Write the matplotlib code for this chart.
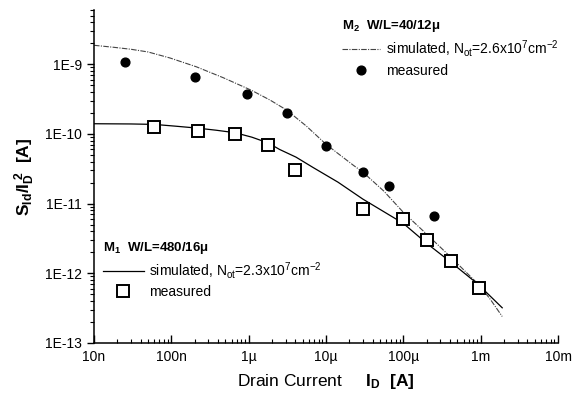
import matplotlib
matplotlib.use("Agg")
import matplotlib.pyplot as plt

plt.rcParams['font.family'] = ['Liberation Sans', 'DejaVu Sans']
plt.rcParams['mathtext.fontset'] = 'custom'
plt.rcParams['mathtext.rm'] = 'Liberation Sans'
plt.rcParams['mathtext.it'] = 'Liberation Sans:italic'
plt.rcParams['mathtext.bf'] = 'Liberation Sans:bold'

# measured, M2 (filled circles)
m2_id = [2.5e-8, 2e-7, 9.5e-7, 3.1e-6, 1e-5, 3e-5, 6.6e-5, 2.5e-4]
m2_s = [1.06e-9, 6.6e-10, 3.8e-10, 2.0e-10, 6.7e-11, 2.8e-11, 1.8e-11, 6.7e-12]

# measured, M1 (open squares)
m1_id = [6e-8, 2.2e-7, 6.6e-7, 1.76e-6, 4e-6, 3e-5, 1e-4, 2e-4, 4.1e-4, 9.5e-4]
m1_s = [1.24e-10, 1.1e-10, 1.0e-10, 7.0e-11, 3.0e-11, 8.5e-12, 6.0e-12, 3.0e-12,
        1.5e-12, 6.1e-13]

# simulated curves
sim2_id = [1e-8, 1.8e-8, 3e-8, 5e-8, 9.6e-8, 2.1e-7, 4.7e-7, 1.1e-6, 1.9e-6, 3.1e-6,
           5.6e-6, 1e-5, 2.25e-5, 3e-5, 5.6e-5, 1e-4, 2e-4, 4.1e-4, 9.8e-4,
           1.36e-3, 1.9e-3]
sim2_s = [1.87e-9, 1.75e-9, 1.64e-9, 1.50e-9, 1.23e-9, 9.2e-10, 6.4e-10, 4.2e-10,
          3.05e-10, 2.2e-10, 1.29e-10, 7.1e-11, 3.56e-11, 2.83e-11, 1.51e-11,
          7.5e-12, 3.65e-12, 1.71e-12, 6.6e-13, 4.1e-13, 2.4e-13]

sim1_id = [1e-8, 3e-8, 6e-8, 1.15e-7, 2.2e-7, 3.8e-7, 6.7e-7, 1.1e-6, 1.8e-6,
           2.5e-6, 4.1e-6, 6.8e-6, 1.43e-5, 3e-5, 1e-4, 2e-4, 4.1e-4, 9.2e-4, 1.9e-3]
sim1_s = [1.40e-10, 1.39e-10, 1.37e-10, 1.29e-10, 1.21e-10, 1.13e-10, 1.04e-10,
          8.98e-11, 7.4e-11, 6.0e-11, 4.64e-11, 3.3e-11, 2.03e-11, 1.16e-11,
          5.2e-12, 2.7e-12, 1.45e-12, 7.0e-13, 3.2e-13]

xticks = [1e-8, 1e-7, 1e-6, 1e-5, 1e-4, 1e-3, 1e-2]
xlabels = ['10n', '100n', '1\u00b5', '10\u00b5', '100\u00b5', '1m', '10m']
yticks = [1e-13, 1e-12, 1e-11, 1e-10, 1e-9]
ylabels = ['1E-13', '1E-12', '1E-11', '1E-10', '1E-9']

fig = plt.figure(figsize=(5.78, 3.99), dpi=100)
ax = fig.add_axes([94/578, 1-343/399, 464/578, 333/399])

l2, = ax.plot(sim2_id, sim2_s, color='#444444', lw=0.8, ls=(0, (5, 1.2, 1, 1.2)),
              label=r'simulated, N$_{\rm ot}$=2.6x10$^{7}$cm$^{-2}$')
p2, = ax.plot(m2_id, m2_s, 'o', color='black', ms=6.3, label='measured')
l1, = ax.plot(sim1_id, sim1_s, color='black', lw=0.9,
              label=r'simulated, N$_{\rm ot}$=2.3x10$^{7}$cm$^{-2}$')
p1, = ax.plot(m1_id, m1_s, 's', mfc='white', mec='black', mew=1.4, ms=9.2,
              label='measured')

ax.set_xscale('log')
ax.set_yscale('log')
ax.set_xlim(1e-8, 1e-2)
ax.set_ylim(1e-13, 6e-9)
ax.set_xticks(xticks)
ax.set_xticklabels(xlabels)
ax.set_yticks(yticks)
ax.set_yticklabels(ylabels)

for s in ['top', 'right']:
    ax.spines[s].set_visible(False)
for s in ['left', 'bottom']:
    ax.spines[s].set_linewidth(1.1)

ax.tick_params(axis='x', which='major', direction='in', length=6, width=1, labelsize=10, pad=5)
ax.tick_params(axis='x', which='minor', direction='in', length=3, width=0.8)
ax.tick_params(axis='y', which='major', direction='out', length=5, width=1, labelsize=10)
ax.tick_params(axis='y', which='minor', direction='out', length=3, width=0.8)

ax.set_xlabel(r'Drain Current     $\mathbf{I_D}$  $\mathbf{[A]}$', fontsize=12.5, labelpad=6)
ax.set_ylabel(r'$\mathbf{S_{Id}/I_D^{\ 2}}$  $\mathbf{[A]}$', fontsize=12.5, labelpad=6)

leg2 = ax.legend(handles=[l2, p2], title=r'M$_\mathbf{2}$  W/L=40/12$\mathbf{\mu}$',
                 loc='upper left', bbox_to_anchor=(0.535, 0.975), frameon=False,
                 fontsize=10, handlelength=2.7, handletextpad=0.45,
                 labelspacing=0.3, borderpad=0, borderaxespad=0,
                 alignment='left', title_fontproperties={'weight': 'bold', 'size': 9.5})
ax.add_artist(leg2)
leg1 = ax.legend(handles=[l1, p1], title=r'M$_\mathbf{1}$  W/L=480/16$\mathbf{\mu}$',
                 loc='upper left', bbox_to_anchor=(0.02, 0.31), frameon=False,
                 fontsize=10, handlelength=2.9, handletextpad=0.4,
                 labelspacing=0.3, borderpad=0, borderaxespad=0,
                 alignment='left', title_fontproperties={'weight': 'bold', 'size': 9.5})

fig.savefig('out.png', dpi=100)
